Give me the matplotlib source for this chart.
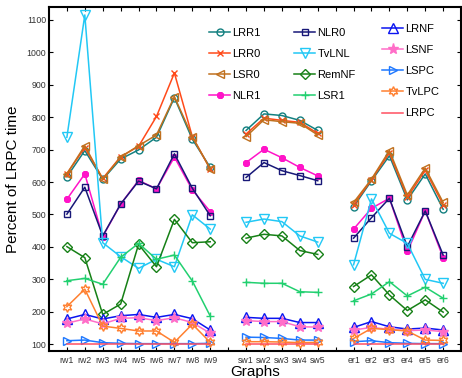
import matplotlib
matplotlib.use("Agg")
import matplotlib.pyplot as plt

plt.rcParams['font.family'] = ['Liberation Sans', 'DejaVu Sans']

# Graph names, grouped by family
rw_names = ["rw1", "rw2", "rw3", "rw4", "rw5", "rw6", "rw7", "rw8", "rw9"]
sw_names = ["sw1", "sw2", "sw3", "sw4", "sw5"]
er_names = ["er1", "er2", "er3", "er4", "er5", "er6"]

# Percent of LRPC time, values ordered rw1..rw9, sw1..sw5, er1..er6
LRR1 = [616, 697, 608, 671, 699, 738, 860, 732, 645,
        759, 810, 805, 790, 759,
        524, 604, 681, 545, 625, 516]
LRR0 = [626, 706, 611, 678, 710, 802, 936, 740, 640,
        748, 797, 790, 784, 750,
        530, 607, 690, 553, 636, 530]
LSR0 = [625, 712, 609, 677, 712, 745, 863, 740, 640,
        740, 792, 786, 781, 745,
        537, 609, 697, 560, 643, 537]
NLR1 = [547, 625, 432, 532, 605, 579, 677, 576, 509,
        660, 701, 675, 645, 619,
        455, 519, 550, 386, 511, 367]
NLR0 = [501, 584, 434, 532, 603, 579, 687, 581, 496,
        614, 660, 635, 620, 604,
        427, 490, 550, 401, 511, 375]
TvLNL = [738, 1115, 413, 370, 334, 362, 339, 499, 455,
         476, 486, 478, 434, 415,
         345, 548, 442, 411, 300, 288]
RemNF = [401, 367, 192, 224, 408, 339, 485, 413, 416,
         427, 439, 434, 389, 377,
         278, 314, 252, 204, 237, 199]
LSR1 = [296, 303, 285, 368, 411, 362, 375, 295, 187,
        291, 288, 288, 262, 260,
        234, 255, 293, 249, 276, 242]
LRNF = [178, 192, 178, 188, 192, 183, 192, 179, 144,
        183, 180, 180, 167, 167,
        152, 170, 154, 147, 150, 144]
LSNF = [165, 178, 163, 180, 182, 173, 182, 167, 134,
        173, 170, 170, 154, 153,
        144, 152, 146, 142, 144, 139]
LSPC = [111, 113, 105, 103, 102, 102, 102, 102, 103,
        122, 121, 118, 113, 113,
        108, 111, 105, 103, 102, 102]
TvLPC = [216, 270, 156, 149, 141, 141, 106, 162, 106,
         108, 108, 107, 105, 106,
         118, 149, 145, 141, 113, 112]
LRPC = [100, 100, 100, 100, 100, 100, 100, 100, 100,
        100, 100, 100, 100, 100,
        100, 100, 100, 100, 100, 100]

# x positions: one empty slot between groups
groups = [rw_names, sw_names, er_names]
xpos = []
start = 1
for g in groups:
    xpos.append(list(range(start, start + len(g))))
    start += len(g) + 1

series = [
    ("LRR1", LRR1, dict(color="#138080", marker="o", mfc="none", ms=5)),
    ("LRR0", LRR0, dict(color="#ff4a1a", marker="x", ms=4.5)),
    ("LSR0", LSR0, dict(color="#c0701e", marker="<", mfc="none", ms=6)),
    ("NLR1", NLR1, dict(color="#ff14c8", marker=(8, 2, 0), ms=5, mew=1.4)),
    ("NLR0", NLR0, dict(color="#181878", marker="s", mfc="none", ms=5)),
    ("TvLNL", TvLNL, dict(color="#22c8f5", marker="v", mfc="none", ms=6.5)),
    ("RemNF", RemNF, dict(color="#168016", marker="D", mfc="none", ms=5)),
    ("LSR1", LSR1, dict(color="#22d070", marker="+", ms=6)),
    ("LRNF", LRNF, dict(color="#0a14f0", marker="^", mfc="none", ms=6.5)),
    ("LSNF", LSNF, dict(color="#ff6ec8", marker="*", ms=8)),
    ("LSPC", LSPC, dict(color="#1e78ff", marker=">", mfc="none", ms=6)),
    ("TvLPC", TvLPC, dict(color="#ff8030", marker=(6, 1, 0), mfc="none", ms=7)),
    ("LRPC", LRPC, dict(color="#ff5060", marker="None")),
]

fig = plt.figure(figsize=(4.62, 3.78), dpi=100)
ax = fig.add_axes([0.106, 0.072, 0.892, 0.910])

handles = {}
for name, vals, style in series:
    st = dict(style)
    st.setdefault("mew", 1.0)
    i0 = 0
    for k, g in enumerate(groups):
        seg = vals[i0:i0 + len(g)]
        ln, = ax.plot(xpos[k], seg, lw=1.1, **st)
        i0 += len(g)
    handles[name] = ln

ax.set_xlim(0, 23)
ax.set_ylim(80, 1140)
ticks = list(range(1, 23))
labels_map = {}
for k, g in enumerate(groups):
    for p, nm in zip(xpos[k], g):
        labels_map[p] = nm
ax.set_xticks(ticks)
ax.set_xticklabels([labels_map.get(t, "") for t in ticks])
ax.set_yticks(range(100, 1101, 100))
ax.tick_params(direction="in", top=True, right=True, labelsize=6.3,
               length=3, width=0.8, labelcolor="#333333", pad=2)
ax.tick_params(axis="x", pad=4)
for s in ax.spines.values():
    s.set_linewidth(1.5)

ax.set_ylabel("Percent of LRPC time", fontsize=11, labelpad=5)
ax.set_xlabel("Graphs", fontsize=11, labelpad=0)

cols = [["LRR1", "LRR0", "LSR0", "NLR1"],
        ["NLR0", "TvLNL", "RemNF", "LSR1"],
        ["LRNF", "LSNF", "LSPC", "TvLPC", "LRPC"]]
anchors = [(209 / 462, 1 - 28 / 378), (294 / 462, 1 - 28 / 378), (382 / 462, 1 - 24 / 378)]
legs = []
for names, anc in zip(cols, anchors):
    leg = ax.legend([handles[n] for n in names], names, loc="upper left",
                    bbox_to_anchor=anc, bbox_transform=fig.transFigure,
                    frameon=False, fontsize=8, handlelength=1.9,
                    handletextpad=0.2, labelspacing=1.0, borderpad=0,
                    borderaxespad=0)
    legs.append(leg)
for leg in legs[:-1]:
    ax.add_artist(leg)

fig.savefig("out.png", dpi=100)
